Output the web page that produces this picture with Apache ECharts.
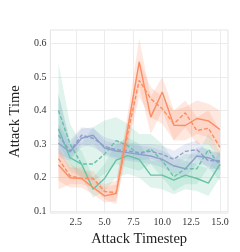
<!DOCTYPE html>
<html><head><meta charset="utf-8">
<script src="https://cdn.jsdelivr.net/npm/echarts@6/dist/echarts.min.js"></script>
<style>html,body{margin:0;padding:0;background:#fff}#c{width:240px;height:252px}</style>
</head><body><div id="c"></div>
<script>
const timesteps = [1,2,3,4,5,6,7,8,9,10,11,12,13,14,15];
const xTicks = [2.5,5,7.5,10,12.5,15];
const yTicks = [0.1,0.2,0.3,0.4,0.5,0.6];

const orangeSolid  = [0.237,0.199,0.197,0.170,0.145,0.152,0.345,0.545,0.380,0.455,0.356,0.355,0.376,0.369,0.343];
const orangeSolidLo= [0.19,0.17,0.17,0.15,0.125,0.13,0.30,0.47,0.33,0.40,0.31,0.31,0.33,0.32,0.29];
const orangeSolidHi= [0.28,0.23,0.23,0.20,0.17,0.18,0.39,0.615,0.44,0.50,0.40,0.41,0.43,0.42,0.40];

const orangeDashed  = [0.256,0.205,0.197,0.197,0.158,0.155,0.330,0.490,0.435,0.405,0.360,0.393,0.340,0.347,0.290];
const orangeDashedLo= [0.165,0.18,0.18,0.17,0.135,0.12,0.29,0.44,0.38,0.36,0.31,0.35,0.30,0.30,0.26];
const orangeDashedHi= [0.29,0.24,0.22,0.22,0.18,0.19,0.37,0.55,0.47,0.44,0.40,0.43,0.38,0.40,0.34];

const greenSolid  = [0.345,0.259,0.240,0.165,0.197,0.252,0.265,0.254,0.207,0.207,0.192,0.207,0.197,0.183,0.240];
const greenSolidLo= [0.28,0.22,0.20,0.14,0.16,0.20,0.21,0.20,0.17,0.165,0.15,0.165,0.16,0.145,0.20];
const greenSolidHi= [0.45,0.30,0.28,0.20,0.24,0.30,0.32,0.30,0.25,0.25,0.235,0.25,0.24,0.225,0.28];

const greenDashed  = [0.400,0.300,0.240,0.240,0.270,0.310,0.295,0.268,0.285,0.250,0.202,0.226,0.226,0.283,0.235];
const greenDashedLo= [0.30,0.24,0.20,0.19,0.21,0.24,0.23,0.22,0.24,0.20,0.16,0.18,0.18,0.23,0.19];
const greenDashedHi= [0.54,0.36,0.30,0.35,0.37,0.38,0.36,0.33,0.33,0.30,0.25,0.27,0.27,0.33,0.28];

const blueSolid  = [0.302,0.276,0.317,0.326,0.288,0.279,0.274,0.269,0.264,0.254,0.235,0.226,0.264,0.259,0.245];
const blueSolidLo= [0.26,0.25,0.29,0.30,0.265,0.255,0.25,0.245,0.24,0.23,0.21,0.20,0.24,0.235,0.22];
const blueSolidHi= [0.36,0.30,0.345,0.35,0.31,0.30,0.30,0.295,0.29,0.28,0.26,0.25,0.29,0.285,0.27];

const blueDashed  = [0.326,0.279,0.326,0.317,0.293,0.283,0.279,0.274,0.278,0.269,0.254,0.278,0.283,0.250,0.250];
const blueDashedLo= [0.27,0.255,0.30,0.29,0.27,0.26,0.255,0.25,0.255,0.245,0.23,0.255,0.26,0.225,0.225];
const blueDashedHi= [0.45,0.31,0.35,0.345,0.32,0.31,0.305,0.30,0.30,0.295,0.28,0.30,0.31,0.275,0.275];

const ORANGE = '#fc8d62', GREEN = '#66c2a5', BLUE = '#8da0cb';

const groups = [
  {name:'greenSolid', c:GREEN, v:greenSolid, lo:greenSolidLo, hi:greenSolidHi, dash:'solid'},
  {name:'greenDashed', c:GREEN, v:greenDashed, lo:greenDashedLo, hi:greenDashedHi, dash:[4,2]},
  {name:'blueSolid', c:BLUE, v:blueSolid, lo:blueSolidLo, hi:blueSolidHi, dash:'solid'},
  {name:'blueDashed', c:BLUE, v:blueDashed, lo:blueDashedLo, hi:blueDashedHi, dash:[4,2]},
  {name:'orangeSolid', c:ORANGE, v:orangeSolid, lo:orangeSolidLo, hi:orangeSolidHi, dash:'solid'},
  {name:'orangeDashed', c:ORANGE, v:orangeDashed, lo:orangeDashedLo, hi:orangeDashedHi, dash:[4,2]}
];

const series = [];
groups.forEach(g => {
  series.push({
    type:'custom', silent:true, z:1,
    data: timesteps.map((t,i)=>[t,g.lo[i],g.hi[i]]),
    encode:{x:0, y:[1,2]},
    renderItem:(params, api) => {
      if (params.dataIndex !== 0) return null;
      const upper = timesteps.map((t,i)=>api.coord([t,g.hi[i]]));
      const lower = timesteps.map((t,i)=>api.coord([t,g.lo[i]])).reverse();
      return {type:'polygon', shape:{points:upper.concat(lower)},
        style:{fill:g.c, opacity:0.2}};
    }
  });
});
groups.forEach(g => {
  series.push({
    type:'line', symbol:'none', silent:true,
    data: timesteps.map((t,i)=>[t,g.v[i]]),
    lineStyle:{color:g.c, width:1.4, type:g.dash}, z:3
  });
});

const font = '"Liberation Serif","DejaVu Serif",serif';
const chart = echarts.init(document.getElementById('c'), null, {renderer:'canvas'});
chart.setOption({
  animation:false,
  grid:{left:32, right:12, top:30, bottom:31, show:true, borderColor:'#e4e4e4', borderWidth:1},
  xAxis:{
    type:'value', min:0.3, max:15.7,
    name:'Attack Timestep', nameLocation:'middle', nameGap:19,
    nameTextStyle:{fontFamily:font, fontSize:14.5, color:'#222'},
    axisLine:{show:false},
    axisTick:{show:false, customValues:xTicks},
    axisLabel:{customValues:xTicks, fontFamily:font, fontSize:10, color:'#333', margin:4,
      formatter:v=>v.toFixed(1)},
    splitLine:{show:true, customValues:xTicks, lineStyle:{color:'#ececec', width:1}}
  },
  yAxis:{
    type:'value', min:0.094, max:0.64,
    name:'Attack Time', nameLocation:'middle', nameGap:24, nameRotate:90,
    nameTextStyle:{fontFamily:font, fontSize:14.5, color:'#222'},
    axisLine:{show:false},
    axisTick:{show:false, customValues:yTicks},
    axisLabel:{customValues:yTicks, fontFamily:font, fontSize:10, color:'#333', margin:4,
      formatter:v=>v.toFixed(1)},
    splitLine:{show:true, customValues:yTicks, lineStyle:{color:'#ececec', width:1}}
  },
  series: series
});
</script></body></html>
